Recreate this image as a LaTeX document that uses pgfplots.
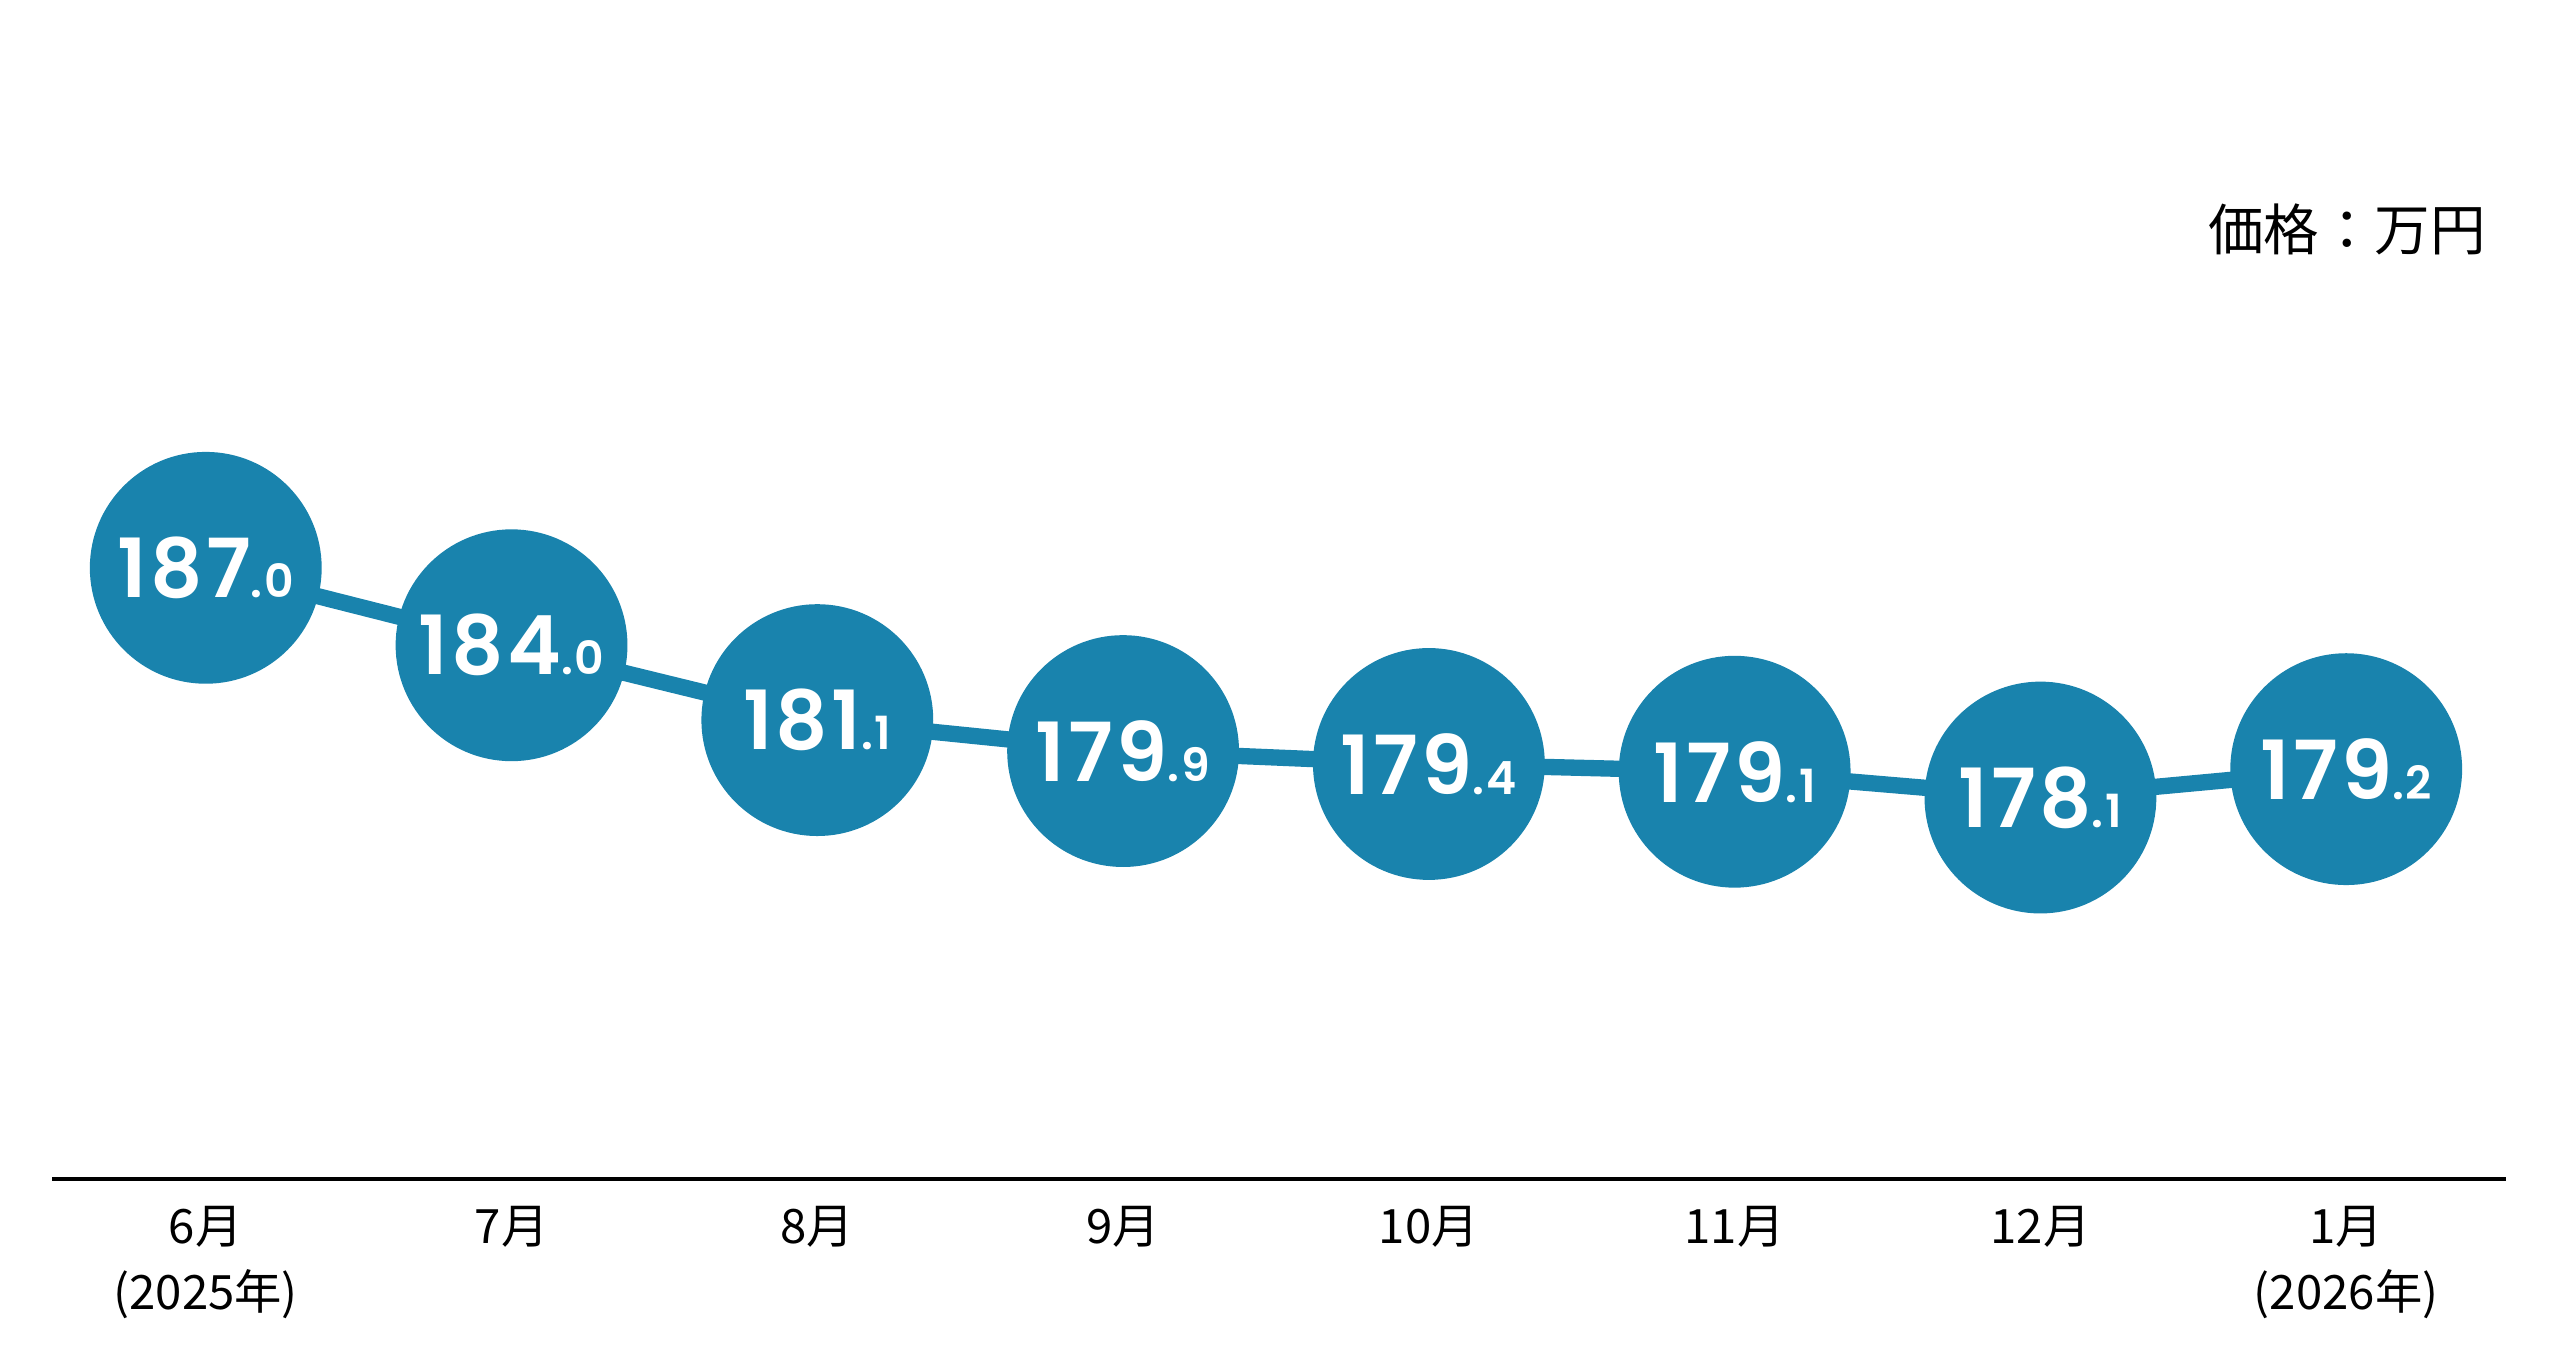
\documentclass[border=0pt]{standalone}
\usepackage{pgfplots}
\pgfplotsset{compat=1.18}
\usepackage{pgfplotstable}
\usepackage{fontspec}
\setmainfont{Noto Sans CJK JP}
\newfontfamily\numfont{Poppins SemiBold}[LetterSpace=4]
\definecolor{dot}{RGB}{25,131,173}
\DeclareRobustCommand\lab[2]{{\numfont\fontsize{25}{25}\selectfont #1}{\numfont\fontsize{14}{14}\selectfont .#2}}

\pgfplotstableread{
x y label
0 187.0 \lab{187}{0}
1 184.0 \lab{184}{0}
2 181.1 \lab{181}{1}
3 179.9 \lab{179}{9}
4 179.4 \lab{179}{4}
5 179.1 \lab{179}{1}
6 178.1 \lab{178}{1}
7 179.2 \lab{179}{2}
}\pricedata

\begin{document}
\begin{tikzpicture}
\begin{axis}[
  scale only axis,
  width=751.5pt, height=361pt,
  xmin=-0.502, xmax=7.523,
  ymin=163.33, ymax=209.0,
  axis x line=bottom,
  axis y line=none,
  axis line style={line width=1.3pt, black, -},
  xtick={0,1,2,3,4,5,6,7},
  xticklabels={{6月\\(2025年)},{7月},{8月},{9月},{10月},{11月},{12月},{1月\\(2026年)}},
  xticklabel style={align=center, font=\fontsize{14.5}{20}\selectfont, text=black, yshift=-5pt},
  ytick=\empty,
  major tick length=0pt,
  clip=false,
]
\path (rel axis cs:-0.0213,-0.1468) rectangle (rel axis cs:1.02196,1);
\addplot[color=dot, line width=5pt,
  mark=*, mark size=33pt, mark options={fill=dot, draw=none},
  point meta=explicit symbolic,
  nodes near coords={\pgfplotspointmeta},
  nodes near coords align=center,
  every node near coord/.append style={anchor=center, text=white, inner sep=0pt},
] table[x=x, y=y, meta=label] {\pricedata};
\node[anchor=east, inner sep=0pt, font=\fontsize{17}{17}\selectfont, text=black] at (axis description cs:0.992,0.805) {価格：万円};
\end{axis}
\end{tikzpicture}
\end{document}
